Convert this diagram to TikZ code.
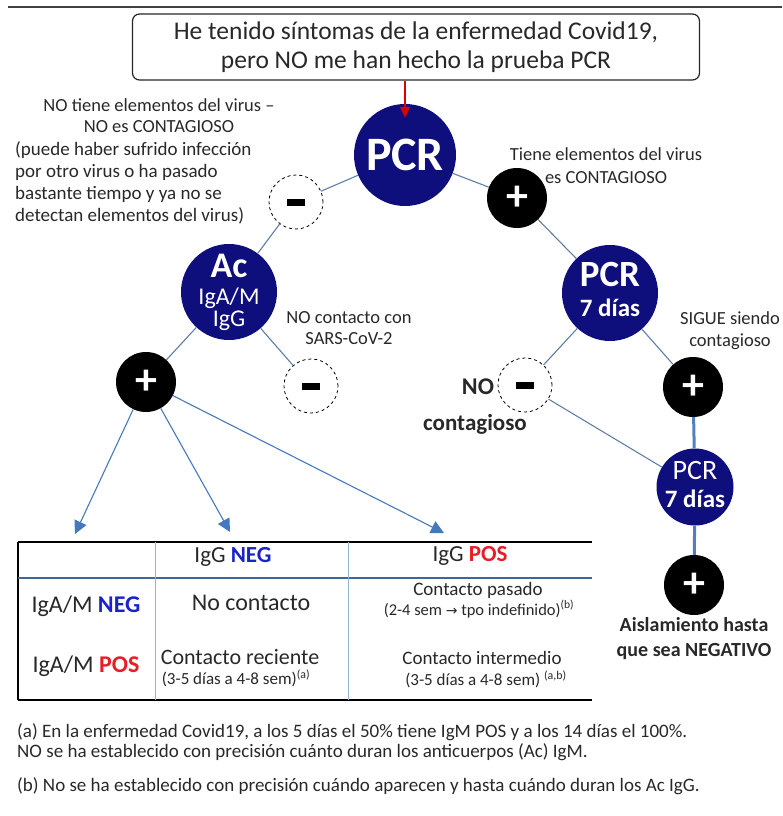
\documentclass[tikz,border=0pt]{standalone}
\usepackage{fontspec}
\setmainfont{Carlito}
\newfontfamily\dvs{DejaVu Sans}
\usetikzlibrary{arrows.meta,calc}
\definecolor{navyc}{RGB}{14,14,125}
\definecolor{connc}{RGB}{95,125,165}
\definecolor{arrc}{RGB}{70,120,190}
\definecolor{tblue}{RGB}{79,129,189}
\definecolor{negc}{RGB}{25,35,200}
\definecolor{posc}{RGB}{230,30,40}
\definecolor{txtc}{RGB}{40,40,40}
\newcommand\fsz[2]{\fontsize{#1}{#2}\selectfont}
\begin{document}
\begin{tikzpicture}[x=1pt,y=-1pt,
  navy/.style={circle, fill=navyc, inner sep=0pt},
  plusn/.style={circle, fill=black, inner sep=0pt, minimum size=60pt, text=white, font=\bfseries\fsz{44}{44}},
  minusn/.style={circle, draw=black, dashed, line width=0.8pt, fill=white, inner sep=0pt, minimum size=54pt},
  wtext/.style={text=white, inner sep=0pt},
  conn/.style={draw=connc, line width=1.1pt},
  thickc/.style={draw=tblue, line width=3pt},
  arr/.style={draw=arrc, line width=1.1pt, -{Triangle[length=13pt,width=13pt]}},
  lbl/.style={align=center, inner sep=0pt, text=txtc, font=\fsz{18.5}{21}},
  cell/.style={inner sep=0pt, align=center, text=txtc},
  foot/.style={inner sep=0pt, anchor=west, text=txtc, font=\fsz{19}{20}}]
\useasboundingbox (0,0) rectangle (782,816);
% top rule
\draw[black!75, line width=2pt] (8,7) -- (782,7);
% top box
\node[draw=black!85, line width=1.2pt, rounded corners=7pt, minimum width=567pt, minimum height=66pt, align=center, font=\fsz{25.5}{29}, text=txtc] (top) at (416,47) {He tenido síntomas de la enfermedad Covid19,\\pero NO me han hecho la prueba PCR};
% main PCR
\node[navy, minimum size=102pt] (pcr) at (405,155) {};
\node[wtext, font=\bfseries\fsz{48}{48}] (pcrt) at (pcr) {PCR};
\draw[red!85!black, line width=1.4pt, -{Triangle[length=11pt,width=10pt]}] (top.south -| pcr) -- ([yshift=-14pt]pcr.north);
% first level
\node[minusn] (m1) at (296,202) {\rule{18pt}{7pt}};
\node[plusn] (p1) at (517,198) {+};
\draw[conn] (pcr) -- (m1);
\draw[conn] (pcr) -- (p1);
% labels first level
\node[lbl] (l1) at (159,116) {NO tiene elementos del virus –\\NO es CONTAGIOSO};
\node[lbl, align=left, anchor=north west, font=\fsz{19}{22}] (l2) at (15,141) {(puede haber sufrido infección\\por otro virus o ha pasado\\bastante tiempo y ya no se\\detectan elementos del virus)};
\node[lbl, font=\fsz{18.5}{23}] (l3) at (606,166) {Tiene elementos del virus\\es CONTAGIOSO};
% Ac node
\node[navy, minimum size=96pt] (ac) at (229,292) {};
\node[wtext, font=\bfseries\fsz{36}{36}] (act) at ($(ac)+(0,-26)$) {Ac};
\node[wtext, font=\fsz{24}{24}] (acm) at ($(ac)+(0,6)$) {IgA/M};
\node[wtext, font=\fsz{24}{24}] (acg) at ($(ac)+(0,29)$) {IgG};
\draw[conn] (m1) -- (ac);
% PCR 7 dias
\node[navy, minimum size=96pt] (pcr7) at (610,293) {};
\node[wtext, font=\bfseries\fsz{37}{37}] (pcr7a) at ($(pcr7)+(0,-19)$) {PCR};
\node[wtext, font=\bfseries\fsz{25}{25}] (pcr7b) at ($(pcr7)+(0,15)$) {7 días};
\draw[conn] (p1) -- (pcr7);
% second level
\node[plusn] (p3) at (146,382) {+};
\node[minusn] (m2) at (311,386) {\rule{18pt}{7pt}};
\draw[conn] (ac) -- (p3);
\draw[conn] (ac) -- (m2);
\node[lbl, font=\fsz{18.5}{21}] (l4) at (349,328) {NO contacto con\\SARS-CoV-2};
\node[minusn] (m3) at (525,385) {\rule{18pt}{7pt}};
\node[plusn] (p4) at (693,387) {+};
\draw[conn] (pcr7) -- (m3);
\draw[conn] (pcr7) -- (p4);
\node[lbl, font=\fsz{18.5}{22}] (l5) at (730,331) {SIGUE siendo\\contagioso};
\node[inner sep=0pt, font=\bfseries\fsz{24}{24}, text=txtc] (no) at (478,387) {NO};
\node[inner sep=0pt, font=\bfseries\fsz{23}{23}, text=txtc] (cont) at (475,424) {contagioso};
% lower PCR 7 dias
\node[navy, minimum size=77pt] (pcr7c) at (695,487) {};
\node[wtext, font=\fsz{28}{28}] (pcr7ca) at ($(pcr7c)+(0,-16)$) {PCR};
\node[wtext, font=\bfseries\fsz{25}{25}] (pcr7cb) at ($(pcr7c)+(0,12)$) {7 días};
\node[plusn] (p5) at (694,585) {+};
\draw[conn] (m3) -- (pcr7c);
\draw[thickc] (p4) -- (pcr7c);
\draw[thickc] (pcr7c) -- (p5);
\node[inner sep=0pt, align=center, font=\bfseries\fsz{20}{25}, text=txtc] (ais) at (694,639) {Aislamiento hasta\\que sea NEGATIVO};
% arrows to table
\coordinate (t1) at (75,534);
\coordinate (t2) at (230,532);
\coordinate (t3) at (444,533);
\draw[arr] (p3) -- (t1);
\draw[arr] (p3) -- (t2);
\draw[arr] (p3) -- (t3);
% table
\draw[black, line width=1.8pt] (18,542) -- (592,542);
\draw[black, line width=1.8pt] (18,700) -- (592,700);
\draw[black, line width=1.4pt] (18,542) -- (18,700);
\draw[tblue!80!black, line width=1.4pt] (18,578) -- (592,578);
\draw[tblue!60, line width=1pt] (155,542) -- (155,700);
\draw[tblue!60, line width=1pt] (348,542) -- (348,700);
\node[cell, font=\fsz{23}{23}] (h1) at (233,557) {IgG \textbf{\textcolor{negc}{NEG}}};
\node[cell, font=\fsz{23}{23}] (h2) at (470,556) {IgG \textbf{\textcolor{posc}{POS}}};
\node[cell, font=\fsz{24}{24}] (r1) at (86,606) {IgA/M \textbf{\textcolor{negc}{NEG}}};
\node[cell, font=\fsz{24}{24}] (r2) at (86,666) {IgA/M \textbf{\textcolor{posc}{POS}}};
\node[cell, font=\fsz{24}{24}] (c11) at (251,603) {No contacto};
\node[cell, font=\fsz{19}{19}] (c12a) at (478,590) {Contacto pasado};
\node[cell, font=\fsz{16.5}{16.5}] (c12b) at (479,609) {(2-4 sem {\dvs\fsz{14}{14}→} tpo indefinido)\textsuperscript{(b)}};
\node[cell, font=\fsz{22}{22}] (c21a) at (240,657) {Contacto reciente};
\node[cell, font=\fsz{17}{17}] (c21b) at (236,678) {(3-5 días a 4-8 sem)\textsuperscript{(a)}};
\node[cell, font=\fsz{19}{19}] (c22a) at (482,658) {Contacto intermedio};
\node[cell, font=\fsz{17}{17}] (c22b) at (486,679) {(3-5 días a 4-8 sem) \textsuperscript{(a,b)}};
% footnotes
\node[foot] (fa1) at (17,732) {(a) En la enfermedad Covid19, a los 5 días el 50\% tiene IgM POS y a los 14 días el 100\%.};
\node[foot] (fa2) at (17,752) {NO se ha establecido con precisión cuánto duran los anticuerpos (Ac) IgM.};
\node[foot] (fb) at (17,786) {(b) No se ha establecido con precisión cuándo aparecen y hasta cuándo duran los Ac IgG.};
\end{tikzpicture}
\end{document}
